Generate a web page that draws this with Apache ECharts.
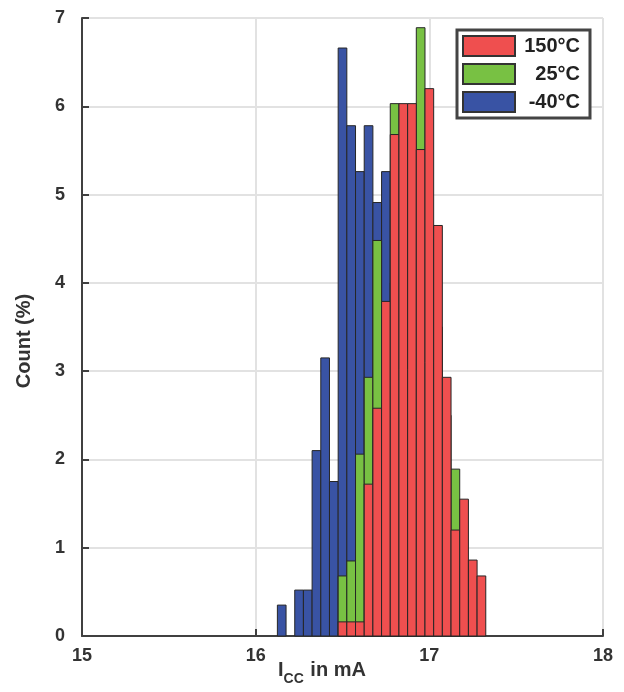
<!DOCTYPE html>
<html><head><meta charset="utf-8">
<script src="https://cdn.jsdelivr.net/npm/echarts@6/dist/echarts.min.js"></script>
<style>html,body{margin:0;padding:0;background:#fff}#c{width:624px;height:692px}</style>
</head><body><div id="c"></div>
<script>
// Bin centres (mA), bin width 0.05 mA
const bins = [16.15,16.20,16.25,16.30,16.35,16.40,16.45,16.50,16.55,16.60,16.65,16.70,16.75,16.80,16.85,16.90,16.95,17.00,17.05,17.10,17.15,17.20,17.25,17.30];
const binWidth = 0.05;
// Count (%) per bin
const minus40 = [0.35,0,0.52,0.52,2.10,3.15,1.75,6.66,5.78,5.26,5.78,4.91,5.26,4.0,2.5,1.2,0.5,0,0,0,0,0,0,0];
const t25     = [0,0,0,0,0,0,0,0.68,0.85,2.06,2.93,4.48,3.5,6.03,5.0,5.5,6.89,4.5,3.5,2.5,1.89,0.8,0.3,0];
const t150    = [0,0,0,0,0,0,0,0.16,0.16,0.16,1.72,2.58,3.79,5.68,6.03,6.03,5.51,6.20,4.65,2.93,1.20,1.55,0.86,0.68];
const seriesNames = ['150°C','25°C','-40°C'];
const xTicks = [15,16,17,18];

const FONT = 'Arial, "Liberation Sans", Helvetica, sans-serif';
const colors = {'150°C':'#EF4F4F','25°C':'#78C143','-40°C':'#3953A4'};

function renderItem(params, api){
  const x = api.value(0), y = api.value(1);
  if (!(y > 0)) return null;
  const p0 = api.coord([x - binWidth/2, y]);
  const p1 = api.coord([x + binWidth/2, 0]);
  return {type:'rect', shape:{x:p0[0], y:p0[1], width:p1[0]-p0[0], height:p1[1]-p0[1]},
    style:{fill: api.visual('color'), stroke:'#262626', lineWidth:1}};
}
function mk(name, vals, z){
  return {type:'custom', name:name, renderItem:renderItem, z:z,
    itemStyle:{color:colors[name], borderColor:'#333', borderWidth:1},
    encode:{x:0,y:1},
    data: bins.map((b,i)=>[b, vals[i]])};
}

const chart = echarts.init(document.getElementById('c'), null, {renderer:'canvas'});
chart.setOption({
  animation:false,
  backgroundColor:'#fff',
  grid:{left:82,right:21,top:18,bottom:56,containLabel:false},
  xAxis:{type:'value',min:15,max:18,interval:1,
    axisLine:{show:true,onZero:false,lineStyle:{color:'#404040',width:2}},
    axisTick:{show:true,inside:true,length:7,lineStyle:{color:'#404040',width:2}},
    axisLabel:{margin:11,fontFamily:FONT,fontWeight:'bold',fontSize:18,color:'#333',
      formatter:v=>xTicks.includes(v)?String(v):''},
    splitLine:{show:true,showMinLine:false,lineStyle:{color:'#e2e2e2',width:2}}},
  yAxis:{type:'value',min:0,max:7,interval:1,
    axisLine:{show:true,lineStyle:{color:'#404040',width:2}},
    axisTick:{show:true,inside:true,length:7,lineStyle:{color:'#404040',width:2}},
    axisLabel:{margin:17,fontFamily:FONT,fontWeight:'bold',fontSize:18,color:'#333'},
    splitLine:{show:true,showMinLine:false,showMaxLine:true,lineStyle:{color:'#e2e2e2',width:2}}},
  legend:{orient:'vertical',left:457,top:30,width:136,
    data:seriesNames, icon:'rect', itemWidth:52,itemHeight:20,itemGap:6,
    padding:[5,10,5,5],
    backgroundColor:'#fff',borderColor:'#444',borderWidth:3,borderRadius:0,
    selectedMode:false,
    formatter:n=>'{t|'+n+'}',
    textStyle:{fontFamily:FONT,fontWeight:'bold',fontSize:20,color:'#222',lineHeight:20,
      rich:{t:{fontFamily:FONT,fontWeight:'bold',fontSize:20,color:'#222',width:60,align:'right',lineHeight:20,height:20}}}},
  graphic:[
    {type:'text',x:24,y:341,rotation:Math.PI/2,
      style:{text:'Count (%)',font:'bold 20px '+FONT,fill:'#333',align:'center',verticalAlign:'middle'}},
    {type:'text',left:278,top:660,
      style:{text:'{a|I}{s|CC}{a| in mA}',
        rich:{a:{font:'bold 20px '+FONT,fill:'#333',verticalAlign:'bottom',lineHeight:24},
              s:{font:'bold 14px '+FONT,fill:'#333',verticalAlign:'bottom',lineHeight:24,padding:[0,1,-6,0]}}}}
  ],
  series:[mk('-40°C',minus40,1), mk('25°C',t25,2), mk('150°C',t150,3)]
});
</script></body></html>
